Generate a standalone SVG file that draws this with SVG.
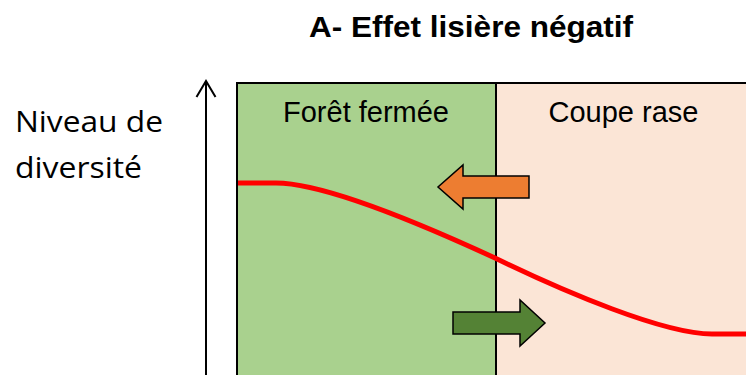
<svg xmlns="http://www.w3.org/2000/svg" width="746" height="375" viewBox="0 0 746 375">
<style>
.lbl{font-family:"Liberation Sans",Arial,sans-serif;font-size:29px;fill:#000}
.axl{font-family:"Open Sans","Liberation Sans",sans-serif;font-size:30px;fill:#000}
.ttl{font-family:"Liberation Sans",Arial,sans-serif;font-size:29px;font-weight:bold;fill:#000}
.zone{stroke:#000;stroke-width:2}
.arr{stroke:#000;stroke-width:1.5;stroke-linejoin:miter}
</style>
<rect width="746" height="375" fill="#fff"/>
<text class="ttl" x="309" y="37" textLength="324" lengthAdjust="spacingAndGlyphs">A- Effet lisière négatif</text>
<g id="axis-label">
<text class="axl" x="15" y="132" textLength="148" lengthAdjust="spacingAndGlyphs">Niveau de</text>
<text class="axl" x="15" y="178" textLength="127" lengthAdjust="spacingAndGlyphs">diversité</text>
</g>
<g id="foret">
<rect class="zone" x="237" y="83" width="259" height="300" fill="#A9D18E"/>
<text class="lbl" x="366" y="122" text-anchor="middle">Forêt fermée</text>
</g>
<g id="coupe">
<rect class="zone" x="496" y="83" width="260" height="300" fill="#FBE5D6"/>
<text class="lbl" x="623.5" y="122" text-anchor="middle">Coupe rase</text>
</g>
<g id="connectors">
<path d="M206,380 V81 M196.5,97 L206,81 L215.5,97" fill="none" stroke="#000" stroke-width="2"/>
<path d="M238,183 L276,183 C326,183 430,228 495,258 C565,292 664,334 712,334 L746,334" fill="none" stroke="#FF0000" stroke-width="5"/>
<path class="arr" d="M529,176 V198 H463 V209 L438,187 L463,165 V176 Z" fill="#ED7D31"/>
<path class="arr" d="M453,312 V334 H520 V346 L545,323 L520,300 V312 Z" fill="#548235"/>
</g>
</svg>
